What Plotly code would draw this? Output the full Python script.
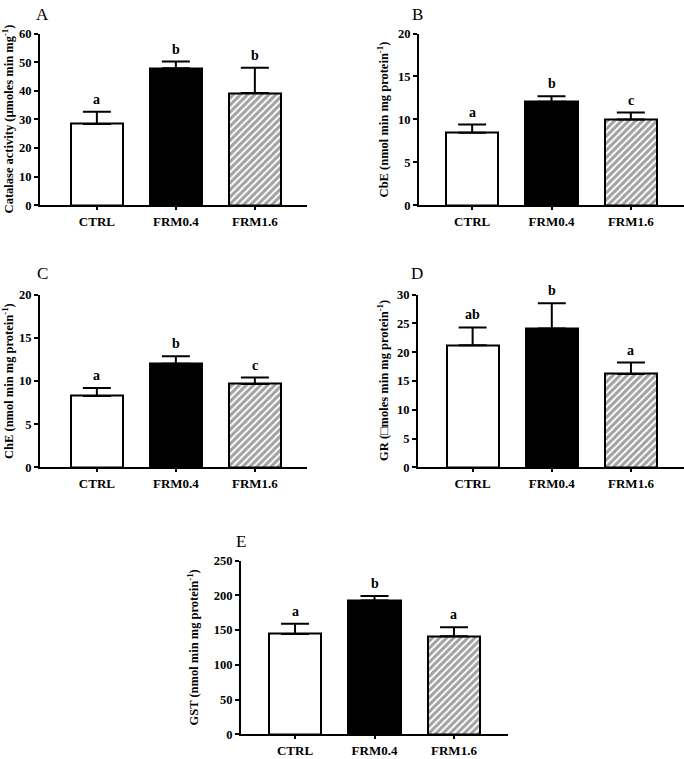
import plotly.graph_objects as go

groups = ["CTRL", "FRM0.4", "FRM1.6"]

catalase = [28.4, 47.9, 39.2]
catalase_err = [4.3, 2.3, 8.8]
catalase_sig = ["a", "b", "b"]

cbe = [8.45, 12.05, 10.0]
cbe_err = [0.95, 0.65, 0.8]
cbe_sig = ["a", "b", "c"]

che = [8.25, 12.0, 9.65]
che_err = [0.95, 0.85, 0.75]
che_sig = ["a", "b", "c"]

gr = [21.2, 24.1, 16.2]
gr_err = [3.1, 4.4, 2.0]
gr_sig = ["ab", "b", "a"]

gst = [144.5, 192.5, 141.0]
gst_err = [14.5, 6.5, 13.0]
gst_sig = ["a", "b", "a"]

W, H = 684, 759
FONT = "Liberation Serif"

panels = [
    dict(letter="A", v=catalase, e=catalase_err, s=catalase_sig,
         title="Catalase activity (µmoles min mg<sup>-1</sup>)",
         ymax=60, dtick=10, xpx=(40, 307), ypx=(27, 202), xr=(-0.72, 2.66), tx=8, lp=(42, 8)),
    dict(letter="B", v=cbe, e=cbe_err, s=cbe_sig,
         title="CbE (nmol min mg protein<sup>-1</sup>)",
         ymax=20, dtick=5, xpx=(419, 684), ypx=(27, 202), xr=(-0.67, 2.67), tx=383, lp=(417, 8)),
    dict(letter="C", v=che, e=che_err, s=che_sig,
         title="ChE (nmol min mg protein<sup>-1</sup>)",
         ymax=20, dtick=5, xpx=(40, 307), ypx=(293, 469), xr=(-0.72, 2.66), tx=8, lp=(42, 272)),
    dict(letter="D", v=gr, e=gr_err, s=gr_sig,
         title="GR (\u25a1moles min mg protein<sup>-1</sup>)",
         ymax=30, dtick=5, xpx=(418, 684), ypx=(293, 469), xr=(-0.69, 2.67), tx=383, lp=(417, 272)),
    dict(letter="E", v=gst, e=gst_err, s=gst_sig,
         title="GST (nmol min mg protein<sup>-1</sup>)",
         ymax=250, dtick=50, xpx=(241, 508), ypx=(564, 741), xr=(-0.68, 2.68), tx=193, lp=(241, 545)),
]

fig = go.Figure()
annotations = []
layout = {}
xs = [0, 1, 2]

for i, p in enumerate(panels):
    n = "" if i == 0 else str(i + 1)
    xa, ya = "x" + n, "y" + n
    fig.add_trace(go.Bar(
        x=xs, y=p["v"], xaxis=xa, yaxis=ya, width=0.66,
        marker=dict(color=["white", "black", "white"],
                    line=dict(color="black", width=2),
                    pattern=dict(shape=["", "", "/"], fgcolor="black",
                                 bgcolor="white", size=5, solidity=0.6)),
        error_y=dict(type="data", symmetric=False, array=p["e"],
                     arrayminus=[0, 0, 0], color="black", thickness=2, width=14),
        showlegend=False, hoverinfo="skip",
    ))
    x0, x1 = p["xpx"]
    yt, yb = p["ypx"]
    layout["xaxis" + n] = dict(
        domain=[x0 / W, x1 / W], anchor=ya, range=list(p["xr"]),
        tickmode="array", tickvals=xs, ticktext=groups,
        ticks="outside", ticklen=3, tickwidth=2, tickcolor="black",
        showline=True, linecolor="black", linewidth=2, showgrid=False, zeroline=False,
        tickfont=dict(family=FONT, size=13, color="black", weight="bold"),
        fixedrange=True,
    )
    layout["yaxis" + n] = dict(
        domain=[1 - yb / H, 1 - yt / H], anchor=xa, range=[0, p["ymax"]],
        dtick=p["dtick"], tick0=0,
        ticks="outside", ticklen=4, tickwidth=2, tickcolor="black",
        showline=True, linecolor="black", linewidth=2, showgrid=False, zeroline=False,
        tickfont=dict(family=FONT, size=12.5, color="black", weight="bold"),
        fixedrange=True,
    )
    annotations.append(dict(
        text=p["title"], xref="paper", yref="paper",
        x=p["tx"] / W, y=1 - ((yt + yb) / 2) / H, textangle=-90,
        showarrow=False, xanchor="center", yanchor="middle",
        font=dict(family=FONT, size=12.5, color="black", weight="bold"),
    ))
    annotations.append(dict(
        text=p["letter"], xref="paper", yref="paper",
        x=p["lp"][0] / W, y=1 - p["lp"][1] / H, showarrow=False,
        xanchor="center", yanchor="middle",
        font=dict(family=FONT, size=17, color="black"),
    ))
    for xi, val, err, s in zip(xs, p["v"], p["e"], p["s"]):
        annotations.append(dict(
            text=s, xref=xa, yref=ya, x=xi, y=val + err, showarrow=False,
            xanchor="center", yanchor="bottom", yshift=3,
            font=dict(family=FONT, size=14, color="black", weight="bold"),
        ))

fig.update_layout(
    width=W, height=H, margin=dict(l=0, r=0, t=0, b=0),
    paper_bgcolor="white", plot_bgcolor="white",
    annotations=annotations, bargap=0, **layout,
)

fig.write_html("out.html", config={"displayModeBar": False},
               post_script="document.body.style.margin='0';document.body.style.overflow='hidden';")
